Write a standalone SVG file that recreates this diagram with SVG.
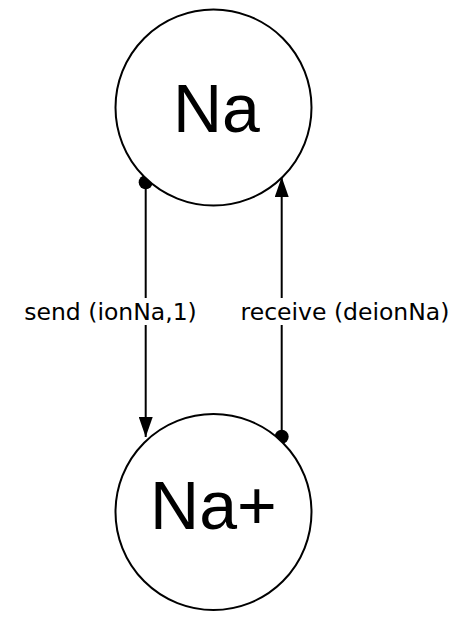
<svg xmlns="http://www.w3.org/2000/svg" width="470" height="620" viewBox="0 0 470 620">
<defs>
<style>
.state{fill:#fff;stroke:#000;stroke-width:2}
.name{font-family:"Liberation Sans",Arial,sans-serif;font-size:68px;fill:#000;text-anchor:middle}
.edge{stroke:#000;stroke-width:2;fill:none}
.lbl{font-family:"DejaVu Sans",Verdana,sans-serif;font-size:23.5px;fill:#000;text-anchor:middle}
.lblbg{fill:#fff}
</style>
<marker id="arrow" markerWidth="20" markerHeight="14" refX="20" refY="7" orient="auto" markerUnits="userSpaceOnUse">
<path d="M0,0 L20,7 L0,14 Z" fill="#000"/>
</marker>
<marker id="dot" markerWidth="16" markerHeight="16" refX="8" refY="8" orient="auto" markerUnits="userSpaceOnUse">
<circle cx="8" cy="8" r="7" fill="#000"/>
</marker>
</defs>
<rect width="470" height="620" fill="#fff"/>
<g id="connectors">
<g id="edge-send">
<line class="edge" x1="145.7" y1="182.3" x2="145.7" y2="437" marker-start="url(#dot)" marker-end="url(#arrow)"/>
<rect class="lblbg" x="22" y="298" width="177" height="27"/>
<text class="lbl" x="110.5" y="320">send (ionNa,1)</text>
</g>
<g id="edge-receive">
<line class="edge" x1="281.7" y1="436.7" x2="281.7" y2="177" marker-start="url(#dot)" marker-end="url(#arrow)"/>
<rect class="lblbg" x="238" y="298" width="214" height="27"/>
<text class="lbl" x="345" y="320">receive (deionNa)</text>
</g>
</g>
<g id="node-Na">
<circle class="state" cx="213.5" cy="107.5" r="98"/>
<text class="name" x="216.4" y="132">Na</text>
</g>
<g id="node-NaPlus">
<circle class="state" cx="213.5" cy="512" r="98"/>
<text class="name" x="213.4" y="529">Na+</text>
</g>
</svg>
